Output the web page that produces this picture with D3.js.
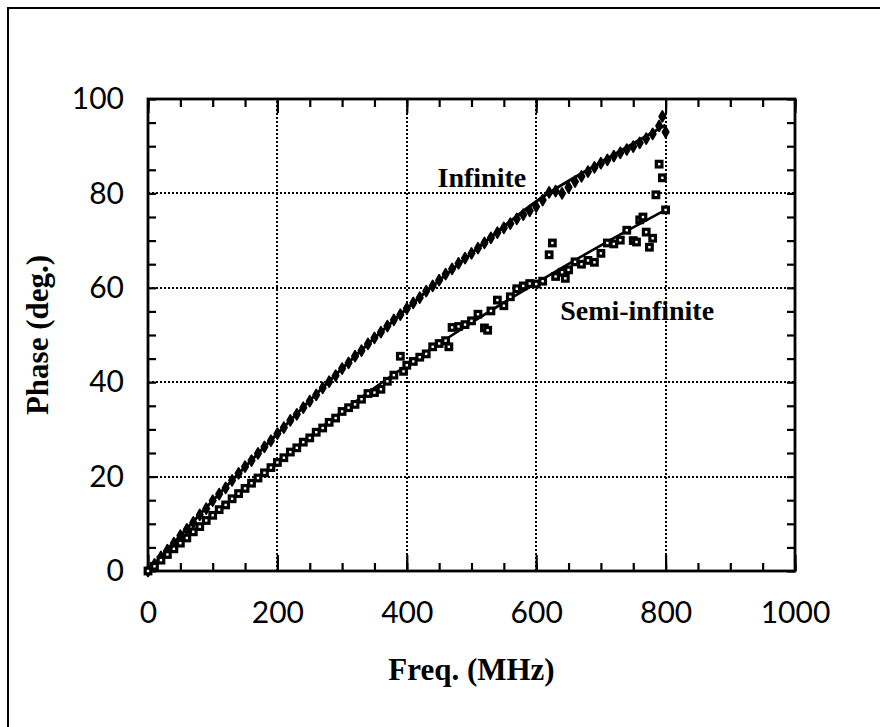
<!DOCTYPE html>
<html>
<head>
<meta charset="utf-8">
<script src="https://cdn.jsdelivr.net/npm/d3@7"></script>
<style>
  html, body { margin: 0; padding: 0; background: #fff; }
  svg { display: block; }
</style>
</head>
<body>
<svg id="chart" width="880" height="727"></svg>
<script>
// ---------- data ----------
const xTicks = [0, 200, 400, 600, 800, 1000];
const yTicks = [0, 20, 40, 60, 80, 100];
const xLabel = "Freq. (MHz)";
const yLabel = "Phase (deg.)";
const seriesNames = ["Infinite", "Semi-infinite"];

// measured points, "Infinite" (diamonds)
const infFreq = [0,10,20,30,40,50,60,70,80,90,100,110,120,130,140,150,160,170,180,190,200,
  210,220,230,240,250,260,270,280,290,300,310,320,330,340,350,360,370,380,390,400,
  410,420,430,440,450,460,470,480,490,500,510,520,530,540,550,560,570,580,590,600,
  610,620,630,640,650,660,670,680,690,700,710,720,730,740,750,760,770,780,790,795,800];
const infPhase = [0,1.4,3.0,4.4,5.9,7.5,8.8,10.3,11.9,13.2,14.9,16.3,17.6,19.2,20.7,22.1,23.4,24.9,26.3,27.6,29.1,
  30.4,31.9,33.2,34.6,36.0,37.3,38.8,40.1,41.4,42.9,44.1,45.5,46.7,48.1,49.4,50.6,51.9,53.2,54.3,55.6,
  56.8,57.9,59.3,60.4,61.6,62.9,64.0,65.2,66.3,67.3,68.4,69.5,70.6,71.7,72.7,73.6,74.6,75.5,76.3,77.2,
  78.6,80.2,80.5,80.0,81.3,82.5,83.6,84.6,85.5,86.4,87.1,87.9,88.6,89.3,89.9,90.7,91.6,92.6,94.3,96.3,93.0];

// measured points, "Semi-infinite" (squares)
const semiFreq = [0,10,20,30,40,50,60,70,80,90,100,110,120,130,140,150,160,170,180,190,200,
  210,220,230,240,250,260,270,280,290,300,310,320,330,340,350,360,370,380,390,395,400,
  410,420,430,440,450,460,465,470,480,490,500,510,520,525,530,540,550,560,570,580,590,600,
  610,620,625,630,640,645,650,660,670,680,690,700,710,720,730,740,750,755,760,765,770,775,780,785,790,795,800];
const semiPhase = [0,1.0,2.3,3.5,4.7,5.9,7.0,8.3,9.4,10.7,11.8,13.0,14.0,15.3,16.4,17.5,18.6,19.7,20.8,21.9,23.0,
  24.0,25.2,26.1,27.3,28.2,29.4,30.3,31.5,32.4,33.8,34.6,35.3,36.4,37.6,37.8,38.5,40.2,41.5,45.5,42.3,43.6,
  44.4,45.3,46.0,47.5,48.2,48.8,47.5,51.6,51.8,52.2,53.0,54.4,51.5,51.0,55.1,57.4,56.2,58.1,59.8,60.4,60.9,60.8,
  61.4,67.0,69.5,62.4,63.3,62.0,63.8,65.5,65.0,65.8,65.4,67.3,69.5,69.3,70.1,72.2,70.0,69.7,74.4,75.0,71.8,68.6,70.5,79.7,86.2,83.3,76.5];

// fitted curves
const fitFreq = [0,100,200,300,400,500,600,700,800];
const infFit = [0,14.9,29.1,42.9,55.6,67.3,78.3,86.6,94.5];
const semiFit = [0,11.8,23.0,33.8,43.6,52.6,61.0,69.0,76.5];

// ---------- drawing ----------
const svg = d3.select("#chart");
const x = d3.scaleLinear().domain([0, 1000]).range([148, 795]);
const y = d3.scaleLinear().domain([0, 100]).range([571, 99]);

// outer frame (left + top only, cropped figure)
svg.append("path")
  .attr("d", "M8,727 L8,8 L880,8")
  .attr("fill", "none").attr("stroke", "#000").attr("stroke-width", 2);

// dotted grid
const gridG = svg.append("g").attr("shape-rendering", "crispEdges");
gridG.selectAll("line.gx").data(xTicks.filter(d => d > 0 && d < 1000)).join("line")
  .attr("x1", d => Math.round(x(d))).attr("x2", d => Math.round(x(d)))
  .attr("y1", y(0)).attr("y2", y(100))
  .attr("stroke", "#000").attr("stroke-width", 2).attr("stroke-dasharray", "2,2");
gridG.selectAll("line.gy").data(yTicks.filter(d => d > 0 && d < 100)).join("line")
  .attr("x1", x(0)).attr("x2", x(1000))
  .attr("y1", d => Math.round(y(d))).attr("y2", d => Math.round(y(d)))
  .attr("stroke", "#000").attr("stroke-width", 2).attr("stroke-dasharray", "2,2");

// inside ticks on all four sides
function styleAxis(g) {
  g.select(".domain").remove();
  g.selectAll(".tick line").attr("stroke", "#000").attr("stroke-width", 2.2);
  g.selectAll(".tick text").remove();
}
const minorX = d3.range(0, 1001, 50), minorY = d3.range(0, 101, 5);
svg.append("g").attr("transform", `translate(0,${y(0)})`)
  .call(d3.axisBottom(x).tickValues(minorX).tickSize(-8)).call(styleAxis);
svg.append("g").attr("transform", `translate(0,${y(0)})`)
  .call(d3.axisBottom(x).tickValues(xTicks).tickSize(-16)).call(styleAxis);
svg.append("g").attr("transform", `translate(0,${y(100)})`)
  .call(d3.axisTop(x).tickValues(minorX).tickSize(-8)).call(styleAxis);
svg.append("g").attr("transform", `translate(0,${y(100)})`)
  .call(d3.axisTop(x).tickValues(xTicks).tickSize(-14)).call(styleAxis);
svg.append("g").attr("transform", `translate(${x(0)},0)`)
  .call(d3.axisLeft(y).tickValues(minorY).tickSize(-8)).call(styleAxis);
svg.append("g").attr("transform", `translate(${x(1000)},0)`)
  .call(d3.axisRight(y).tickValues(minorY).tickSize(-8)).call(styleAxis);

// plot box
svg.append("rect")
  .attr("x", x(0)).attr("y", y(100))
  .attr("width", x(1000) - x(0)).attr("height", y(0) - y(100))
  .attr("fill", "none").attr("stroke", "#000").attr("stroke-width", 2.8);

// tick labels
const tickFont = "Lato, 'DejaVu Sans', sans-serif";
const xAx = svg.append("g").attr("transform", `translate(0,${y(0)})`)
  .call(d3.axisBottom(x).tickValues(xTicks).tickSize(0).tickPadding(31).tickFormat(d3.format("d")));
xAx.select(".domain").remove();
xAx.selectAll("text").attr("font-family", tickFont).attr("font-size", 30).attr("fill", "#000");
const yAx = svg.append("g").attr("transform", `translate(${x(0)},0)`)
  .call(d3.axisLeft(y).tickValues(yTicks).tickSize(0).tickPadding(24).tickFormat(d3.format("d")));
yAx.select(".domain").remove();
yAx.selectAll("text").attr("font-family", tickFont).attr("font-size", 30).attr("fill", "#000");

// fitted lines
const line = d3.line().curve(d3.curveMonotoneX);
svg.append("path")
  .attr("d", line(fitFreq.map((f, i) => [x(f), y(infFit[i])])))
  .attr("fill", "none").attr("stroke", "#000").attr("stroke-width", 3);
svg.append("path")
  .attr("d", line(fitFreq.map((f, i) => [x(f), y(semiFit[i])])))
  .attr("fill", "none").attr("stroke", "#000").attr("stroke-width", 2.6);

// markers
svg.append("g").selectAll("path").data(infFreq).join("path")
  .attr("transform", (f, i) => `translate(${x(f)},${y(infPhase[i])})`)
  .attr("d", d3.symbol(d3.symbolDiamond, 34))
  .attr("fill", "#000").attr("stroke", "#000").attr("stroke-width", 1.8)
  .attr("stroke-linejoin", "round");
svg.append("g").selectAll("rect").data(semiFreq).join("rect")
  .attr("x", f => x(f) - 2.8)
  .attr("y", (f, i) => y(semiPhase[i]) - 2.8)
  .attr("width", 5.6).attr("height", 5.6)
  .attr("fill", "#fff").attr("stroke", "#000").attr("stroke-width", 3.2);

// series labels
const serif = "'Liberation Serif', 'DejaVu Serif', serif";
svg.append("text").attr("x", x(516)).attr("y", y(81.4))
  .attr("text-anchor", "middle").attr("font-family", serif).attr("font-weight", "bold")
  .attr("font-size", 28).text(seriesNames[0]);
svg.append("text").attr("x", x(637)).attr("y", y(53.2))
  .attr("text-anchor", "start").attr("font-family", serif).attr("font-weight", "bold")
  .attr("font-size", 28).text(seriesNames[1]);

// axis titles
svg.append("text").attr("x", (x(0) + x(1000)) / 2).attr("y", 680)
  .attr("text-anchor", "middle").attr("font-family", serif).attr("font-weight", "bold")
  .attr("font-size", 31).text(xLabel);
svg.append("text")
  .attr("transform", `translate(48,${(y(0) + y(100)) / 2}) rotate(-90)`)
  .attr("text-anchor", "middle").attr("font-family", serif).attr("font-weight", "bold")
  .attr("font-size", 31).text(yLabel);
</script>
</body>
</html>
